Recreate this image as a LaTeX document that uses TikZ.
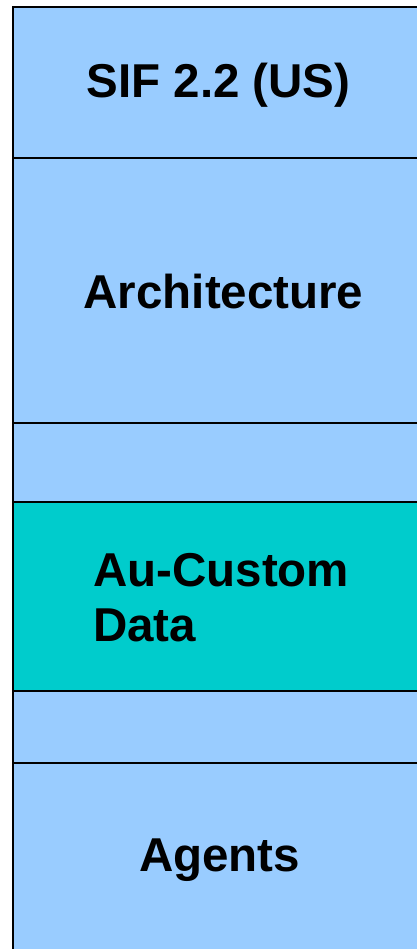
\documentclass[tikz,border=0pt]{standalone}
\usepackage{fontspec}
\setmainfont{Liberation Sans}
\usetikzlibrary{positioning}
\definecolor{layerblue}{RGB}{153,204,255}
\definecolor{layerteal}{RGB}{0,204,204}

\begin{document}
\begin{tikzpicture}[x=1pt,y=-1pt,
    layer/.style={draw,line width=1.8pt,fill=layerblue,minimum width=407pt,
        inner sep=0pt,outer sep=0pt},
    caption/.style={font=\bfseries\fontsize{47.5}{55}\selectfont,inner sep=0pt}]
        % Fix the page and cut off the right and bottom edges
        \useasboundingbox (0,0) rectangle (417,949);
        \clip (0,0) rectangle (417,949);
        % Draw the stacked layers
        \node[layer,minimum height=151pt,anchor=north west] (sif) at (13,7) {};
        \node[layer,minimum height=265pt,below=0pt of sif] (arch) {};
        \node[layer,minimum height=79pt,below=0pt of arch] (gapa) {};
        \node[layer,minimum height=189pt,fill=layerteal,below=0pt of gapa] (custom) {};
        \node[layer,minimum height=72pt,below=0pt of custom] (gapb) {};
        \node[layer,minimum height=200pt,below=0pt of gapb] (agents) {};
        % Layer names
        \node[caption] at ([xshift=2pt,yshift=-3pt]sif.center) {SIF 2.2 (US)};
        \node[caption] at ([xshift=7pt,yshift=-1pt]arch.center) {Architecture};
        \node[caption,align=left,anchor=west] at ([xshift=80pt,yshift=-1pt]custom.west) {Au-Custom\\Data};
        \node[caption] at ([xshift=3pt]agents.north) [yshift=-97pt] {Agents};
    \end{tikzpicture}
\end{document}
